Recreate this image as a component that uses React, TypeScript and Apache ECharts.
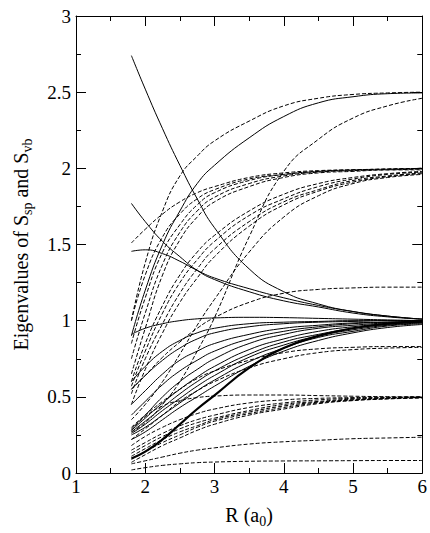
import React, { useEffect, useRef } from "react";
import * as echarts from "echarts";

// Sample abscissae (R in a0)
const X = [1.8, 2.0, 2.25, 2.5, 2.75, 3.0, 3.5, 4.0, 4.5, 5.0, 5.5, 6.0];

// Solid curves (S_sp)
const solidA = [2.74, 2.52, 2.26, 2.02, 1.8, 1.61, 1.34, 1.19, 1.11, 1.06, 1.03, 1.01];
const solidB = [1.77, 1.65, 1.52, 1.42, 1.33, 1.27, 1.19, 1.13, 1.09, 1.05, 1.025, 1.01];
const solidC = [1.455, 1.465, 1.44, 1.39, 1.33, 1.28, 1.21, 1.15, 1.1, 1.06, 1.03, 1.01];
const solidD = [0.91, 0.95, 0.98, 1.0, 1.012, 1.018, 1.022, 1.02, 1.015, 1.01, 1.005, 1.0];
const solid25 = [0.9, 1.2, 1.5, 1.72, 1.9, 2.02, 2.2, 2.34, 2.43, 2.47, 2.49, 2.495];
const solid1 = [0.6, 0.7, 0.8, 0.87, 0.92, 0.95, 0.98, 0.99, 0.995, 1.0, 1.0, 1.0];
const solid2 = [0.55, 0.64, 0.74, 0.82, 0.88, 0.92, 0.96, 0.98, 0.99, 0.995, 1.0, 1.0];
const solid3 = [0.45, 0.54, 0.65, 0.74, 0.8, 0.85, 0.91, 0.95, 0.97, 0.985, 0.99, 0.995];
const solid4 = [0.38, 0.47, 0.58, 0.67, 0.74, 0.8, 0.88, 0.93, 0.96, 0.98, 0.99, 0.995];
const solid5 = [0.29, 0.38, 0.5, 0.6, 0.68, 0.75, 0.85, 0.91, 0.95, 0.97, 0.985, 0.99];
const solid6 = [0.28, 0.36, 0.46, 0.55, 0.63, 0.7, 0.81, 0.88, 0.93, 0.96, 0.98, 0.99];
const solid7 = [0.27, 0.34, 0.43, 0.52, 0.6, 0.67, 0.78, 0.86, 0.91, 0.95, 0.975, 0.99];
const solid8 = [0.26, 0.32, 0.41, 0.49, 0.57, 0.64, 0.76, 0.84, 0.9, 0.94, 0.97, 0.985];
const solid9 = [0.25, 0.3, 0.38, 0.46, 0.54, 0.61, 0.73, 0.82, 0.89, 0.93, 0.965, 0.98];
const solid10 = [0.22, 0.27, 0.35, 0.43, 0.5, 0.57, 0.7, 0.8, 0.87, 0.92, 0.955, 0.975];
const solidThick = [0.095, 0.14, 0.22, 0.32, 0.42, 0.51, 0.69, 0.82, 0.9, 0.95, 0.98, 0.995];

// Dashed curves (S_vb)
const dash25a = [1.0, 1.38, 1.72, 1.95, 2.08, 2.18, 2.31, 2.41, 2.46, 2.485, 2.495, 2.5];
const dash25b = [0.27, 0.33, 0.45, 0.6, 0.8, 1.02, 1.55, 1.98, 2.19, 2.33, 2.41, 2.46];
const dash20a = [1.51, 1.6, 1.7, 1.78, 1.84, 1.88, 1.94, 1.97, 1.985, 1.99, 1.995, 2.0];
const dash20b = [1.0, 1.3, 1.55, 1.7, 1.8, 1.86, 1.93, 1.96, 1.98, 1.99, 1.995, 2.0];
const dash20c = [0.85, 1.15, 1.45, 1.63, 1.76, 1.84, 1.92, 1.96, 1.98, 1.99, 1.995, 2.0];
const dash20d = [0.75, 1.05, 1.37, 1.58, 1.72, 1.81, 1.9, 1.95, 1.975, 1.985, 1.99, 1.995];
const dash20e = [0.65, 0.95, 1.3, 1.53, 1.68, 1.78, 1.88, 1.94, 1.97, 1.98, 1.99, 1.99];
const dash20f = [0.6, 0.85, 1.1, 1.3, 1.45, 1.56, 1.72, 1.83, 1.9, 1.94, 1.965, 1.98];
const dash20g = [0.57, 0.8, 1.05, 1.25, 1.4, 1.52, 1.69, 1.8, 1.88, 1.93, 1.96, 1.975];
const dash20h = [0.52, 0.75, 0.98, 1.18, 1.34, 1.47, 1.65, 1.78, 1.86, 1.92, 1.95, 1.97];
const dash20i = [0.45, 0.68, 0.92, 1.12, 1.28, 1.42, 1.62, 1.76, 1.85, 1.91, 1.945, 1.965];
const dash20j = [0.35, 0.45, 0.6, 0.78, 0.97, 1.14, 1.45, 1.68, 1.82, 1.9, 1.94, 1.96];
const dash122 = [0.55, 0.64, 0.76, 0.86, 0.95, 1.02, 1.12, 1.18, 1.205, 1.215, 1.22, 1.22];
const dash83a = [0.3, 0.38, 0.47, 0.55, 0.62, 0.67, 0.74, 0.79, 0.815, 0.825, 0.83, 0.83];
const dash83b = [0.22, 0.29, 0.38, 0.47, 0.54, 0.6, 0.69, 0.75, 0.79, 0.81, 0.82, 0.825];
const dash50a = [0.28, 0.37, 0.44, 0.475, 0.495, 0.505, 0.512, 0.512, 0.508, 0.504, 0.501, 0.5];
const dash50b = [0.18, 0.24, 0.3, 0.35, 0.39, 0.42, 0.46, 0.48, 0.49, 0.495, 0.498, 0.5];
const dash50c = [0.15, 0.2, 0.26, 0.31, 0.35, 0.38, 0.43, 0.46, 0.48, 0.49, 0.495, 0.498];
const dash50d = [0.13, 0.18, 0.24, 0.29, 0.33, 0.36, 0.41, 0.45, 0.47, 0.485, 0.492, 0.497];
const dash50e = [0.11, 0.16, 0.22, 0.27, 0.31, 0.35, 0.4, 0.44, 0.465, 0.48, 0.49, 0.495];
const dash50f = [0.09, 0.14, 0.2, 0.25, 0.3, 0.34, 0.39, 0.43, 0.46, 0.478, 0.488, 0.494];
const dash50g = [0.07, 0.12, 0.18, 0.23, 0.28, 0.32, 0.38, 0.42, 0.455, 0.475, 0.486, 0.493];
const dash23 = [0.06, 0.08, 0.105, 0.13, 0.15, 0.165, 0.19, 0.205, 0.215, 0.225, 0.23, 0.235];
const dash08 = [0.02, 0.035, 0.05, 0.06, 0.068, 0.072, 0.077, 0.079, 0.08, 0.081, 0.082, 0.082];

const solidCurves = [solidA, solidB, solidC, solidD, solid25, solid1, solid2, solid3, solid4, solid5, solid6, solid7, solid8, solid9, solid10];
const thickCurves = [solidThick];
const dashedCurves = [dash25a, dash25b, dash20a, dash20b, dash20c, dash20d, dash20e, dash20f, dash20g, dash20h, dash20i, dash20j, dash122, dash83a, dash83b, dash50a, dash50b, dash50c, dash50d, dash50e, dash50f, dash50g, dash23, dash08];

const xTicks = { min: 1, max: 6, interval: 1 };
const yTicks = { min: 0, max: 3, interval: 0.5 };

const FONT = "Liberation Serif";

export default function App() {
  const ref = useRef<HTMLDivElement>(null);
  useEffect(() => {
    if (!ref.current) return;
    const chart = echarts.init(ref.current, null, { renderer: "svg" });
    const mk = (vals: number[], type: any, width: number) => ({
      type: "line",
      data: X.map((x, i) => [x, vals[i]]),
      showSymbol: false,
      smooth: 0.5,
      lineStyle: { color: "#000", width, type },
      silent: true,
    });
    const series = [
      ...dashedCurves.map((c) => mk(c, [4, 2], 1)),
      ...solidCurves.map((c) => mk(c, "solid", 1)),
      ...thickCurves.map((c) => mk(c, "solid", 2.2)),
    ];
    const axisCommon = {
      type: "value",
      axisLine: { show: true, onZero: false, lineStyle: { color: "#000", width: 1 } },
      axisTick: { show: true, inside: true, length: 10, lineStyle: { color: "#000", width: 1 } },
      minorTick: { show: true, splitNumber: 2, length: 5, lineStyle: { color: "#000", width: 1 } },
      splitLine: { show: false },
      minorSplitLine: { show: false },
    };
    const nameStyle = {
      color: "#000",
      fontSize: 20,
      fontFamily: FONT,
      lineHeight: 26,
      rich: { sub: { fontSize: 14, fontFamily: FONT, color: "#000", verticalAlign: "bottom", lineHeight: 13 } },
    };
    chart.setOption({
      animation: false,
      backgroundColor: "#fff",
      textStyle: { fontFamily: FONT },
      grid: { left: 68, right: 7, top: 16, bottom: 42, containLabel: false },
      xAxis: [
        {
          ...axisCommon,
          ...xTicks,
          position: "bottom",
          axisLabel: { color: "#000", fontSize: 19, fontFamily: FONT, margin: 4 },
          name: "R (a{sub|0})",
          nameLocation: "middle",
          nameGap: 29,
          nameTextStyle: nameStyle,
        },
        { ...axisCommon, ...xTicks, position: "top", axisLabel: { show: false } },
      ],
      yAxis: [
        {
          ...axisCommon,
          ...yTicks,
          position: "left",
          axisLabel: { color: "#000", fontSize: 19, fontFamily: FONT, margin: 5 },
          name: "Eigenvalues of S{sub|sp} and S{sub|vb}",
          nameLocation: "middle",
          nameRotate: 90,
          nameGap: 42,
          nameTextStyle: nameStyle,
        },
        { ...axisCommon, ...yTicks, position: "right", axisLabel: { show: false } },
      ],
      series,
    });
    return () => chart.dispose();
  }, []);
  return (
    <div
      ref={ref}
      style={{ position: "fixed", left: 0, top: 0, width: 430, height: 533, background: "#fff" }}
    />
  );
}
